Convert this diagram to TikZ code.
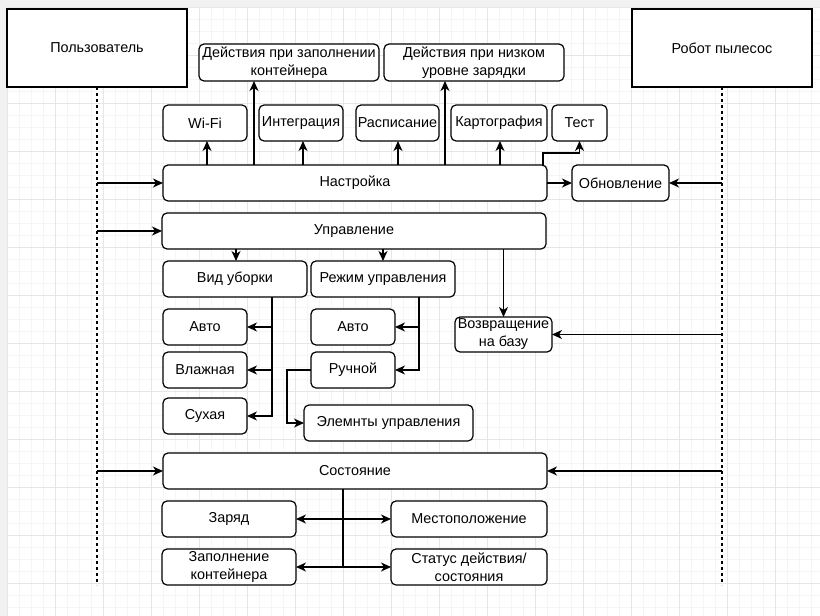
\documentclass[tikz,border=0pt]{standalone}
\usepackage{fontspec}
\setmainfont{Liberation Sans}
\usetikzlibrary{arrows.meta}
\definecolor{gridmin}{HTML}{F5F5F5}
\definecolor{gridmaj}{HTML}{E6E6E6}
\definecolor{edge}{HTML}{F1F1F1}
\tikzset{
  base/.style={draw=black, line width=1.2pt, fill=white, inner sep=1pt, outer sep=0pt,
    align=center, font=\fontsize{14.4}{18}\selectfont},
  rbox/.style={base, rounded corners=5pt},
  actor/.style={base, minimum width=180pt, minimum height=78pt},
  arr/.style={draw=black, line width=1.2pt, -{Stealth[length=10pt,width=9pt,inset=3pt]}},
  plain/.style={draw=black, line width=1.2pt},
  life/.style={draw=black, line width=1.2pt, dash pattern=on 3pt off 3pt},
}
\begin{document}
\begin{tikzpicture}[x=1pt,y=-1pt]
\useasboundingbox (0,0) rectangle (820,616);
% background
\fill[white] (0,0) rectangle (820,616);
\fill[edge] (0,0) rectangle (820,7);
\fill[edge] (0,0) rectangle (7,616);
\foreach \i in {0,...,68} {
  \draw[gridmin, line width=0.7pt] ({7+12*\i},7) -- ({7+12*\i},616);
}
\foreach \i in {0,...,51} {
  \draw[gridmin, line width=0.7pt] (7,{7+12*\i}) -- (820,{7+12*\i});
}
\foreach \i in {0,...,17} {
  \draw[gridmaj, line width=0.7pt] ({7+48*\i},7) -- ({7+48*\i},616);
}
\foreach \i in {0,...,12} {
  \draw[gridmaj, line width=0.7pt] (7,{7+48*\i}) -- (820,{7+48*\i});
}

% actors
\node[actor] (user) at (97,48) {Пользователь};
\node[actor] (robot) at (722,48) {Робот пылесос};
\coordinate (userend) at (97,585);
\coordinate (robotend) at (722,585);
\draw[life] (user.south) -- (userend);
\draw[life] (robot.south) -- (robotend);

% Настройка group
\node[rbox, minimum width=384pt, minimum height=36pt] (nastr) at (355,183) {Настройка};
\node[rbox, minimum width=84pt, minimum height=36pt] (wifi) at (205,123) {Wi-Fi};
\node[rbox, minimum width=84pt, minimum height=36pt] (integ) at (301,123) {Интеграция};
\node[rbox, minimum width=83pt, minimum height=36pt] (rasp) at (397.5,123) {Расписание};
\node[rbox, minimum width=96pt, minimum height=36pt] (kart) at (499,123) {Картография};
\node[rbox, minimum width=55pt, minimum height=36pt] (test) at (579.5,123) {Тест};
\node[rbox, minimum width=180pt, minimum height=37pt] (dzap) at (289,62.5) {Действия при заполнении\\контейнера};
\node[rbox, minimum width=180pt, minimum height=37pt] (dniz) at (474,62.5) {Действия при низком\\уровне зарядки};
\node[rbox, minimum width=97pt, minimum height=36pt] (obn) at (620.5,183) {Обновление};

\draw[arr] (user.south |- nastr.west) -- (nastr.west);
\draw[arr] (robot.south |- obn.east) -- (obn.east);
\draw[arr] (nastr.east) -- (obn.west);
\draw[arr] ([xshift=2pt]wifi.south |- nastr.north) -- ([xshift=2pt]wifi.south);
\draw[arr] ([xshift=2pt]integ.south |- nastr.north) -- ([xshift=2pt]integ.south);
\draw[arr] ([xshift=0.5pt]rasp.south |- nastr.north) -- ([xshift=0.5pt]rasp.south);
\draw[arr] ([xshift=1pt]kart.south |- nastr.north) -- ([xshift=1pt]kart.south);
\draw[arr] ([xshift=-35pt]dzap.south |- nastr.north) -- ([xshift=-35pt]dzap.south);
\draw[arr] ([xshift=-29pt]dniz.south |- nastr.north) -- ([xshift=-29pt]dniz.south);
\draw[arr] ([xshift=-4pt]nastr.north east) |- ([yshift=-12pt]test.south) -- (test.south);

% Управление group
\node[rbox, minimum width=384pt, minimum height=36pt] (upr) at (354,231) {Управление};
\node[rbox, minimum width=144pt, minimum height=36pt] (vid) at (235,279) {Вид уборки};
\node[rbox, minimum width=144pt, minimum height=36pt] (rezh) at (383,279) {Режим управления};
\node[rbox, minimum width=97pt, minimum height=35pt] (voz) at (503.5,334.5) {Возвращение\\на базу};
\node[rbox, minimum width=84pt, minimum height=36pt] (avto1) at (205,327) {Авто};
\node[rbox, minimum width=84pt, minimum height=36pt] (vlazh) at (205,370) {Влажная};
\node[rbox, minimum width=84pt, minimum height=36pt] (suh) at (205,416) {Сухая};
\node[rbox, minimum width=84pt, minimum height=36pt] (avto2) at (353,327) {Авто};
\node[rbox, minimum width=84pt, minimum height=36pt] (ruch) at (353,370) {Ручной};
\node[rbox, minimum width=169pt, minimum height=36pt] (elem) at (388.5,423) {Элемнты управления};

\draw[arr] (user.south |- upr.west) -- (upr.west);
\draw[arr] ([xshift=1pt]vid.north |- upr.south) -- ([xshift=1pt]vid.north);
\draw[arr] (rezh.north |- upr.south) -- (rezh.north);
\draw[arr] (voz.north |- upr.south) -- (voz.north);
\draw[arr] (robot.south |- voz.east) -- (voz.east);
\draw[arr] ([xshift=37pt]vid.south) |- (avto1.east);
\draw[arr] ([xshift=37pt]vid.south) |- (vlazh.east);
\draw[arr] ([xshift=37pt]vid.south) |- (suh.east);
\draw[arr] ([xshift=36pt]rezh.south) |- (avto2.east);
\draw[arr] ([xshift=36pt]rezh.south) |- (ruch.east);
\draw[arr] (ruch.west) -- ++(-24,0) |- (elem.west);

% Состояние group
\node[rbox, minimum width=384pt, minimum height=36pt] (sost) at (355,471) {Состояние};
\node[rbox, minimum width=134pt, minimum height=36pt] (zar) at (229,519) {Заряд};
\node[rbox, minimum width=134pt, minimum height=36pt] (zap) at (229,567) {Заполнение\\контейнера};
\node[rbox, minimum width=156pt, minimum height=36pt] (mest) at (469,519) {Местоположение};
\node[rbox, minimum width=156pt, minimum height=36pt] (stat) at (469,567) {Статус действия/\\состояния};

\draw[arr] (user.south |- sost.west) -- (sost.west);
\draw[arr] (robot.south |- sost.east) -- (sost.east);
\draw[arr] ([xshift=-12pt]sost.south) |- (zar.east);
\draw[arr] ([xshift=-12pt]sost.south) |- (mest.west);
\draw[arr] ([xshift=-12pt]sost.south) |- (zap.east);
\draw[arr] ([xshift=-12pt]sost.south) |- (stat.west);
\end{tikzpicture}
\end{document}
